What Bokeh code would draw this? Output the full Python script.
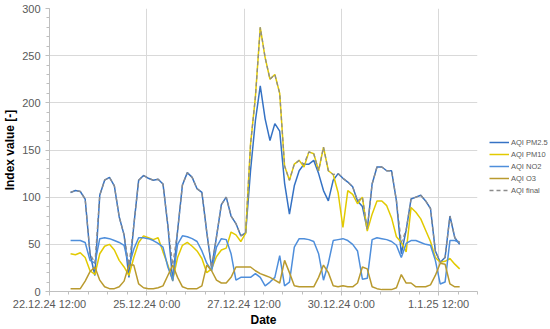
import numpy as np
import pandas as pd
from bokeh.plotting import figure
from bokeh.models import (Range1d, FixedTicker, SingleIntervalTicker, Legend,
                          LegendItem, ColumnDataSource)
from bokeh.embed import file_html
from bokeh.resources import INLINE

# ---------------- data (3-hourly samples) ----------------
start_time = "2024-12-23 01:00"
step = "3h"

aqi_pm25 = [105, 107, 106, 98, 40, 17, 102, 118, 121, 112,
            79, 60, 15, 70, 118, 123, 120, 118, 119, 114,
            70, 11, 64, 113, 126, 121, 109, 105, 63, 25,
            58, 92, 100, 80, 72, 59, 62, 128, 181, 218,
            183, 160, 178, 170, 115, 82, 112, 128, 135, 135,
            139, 125, 107, 96, 118, 125, 120, 116, 111, 96,
            90, 66, 114, 132, 132, 128, 128, 96, 40, 65,
            98, 100, 102, 96, 88, 43, 31, 36, 80, 57, 50]

aqi_pm10 = [40, 39, 41, 36, 22, 18, 40, 48, 50, 44,
            33, 26, 17, 36, 52, 59, 57, 55, 57, 42,
            28, 12, 36, 49, 52, 48, 43, 35, 20, 24,
            37, 44, 46, 63, 60, 53, 62, 156, 206, 280,
            248, 225, 230, 210, 133, 118, 135, 139, 132, 148,
            146, 128, 153, 128, 124, 105, 68, 107, 103, 93,
            100, 64, 82, 96, 96, 91, 78, 58, 52, 42,
            89, 84, 77, 65, 53, 36, 31, 32, 35, 29, 24]

aqi_no2 = [54, 54, 54, 52, 33, 30, 56, 57, 56, 54,
           52, 49, 27, 45, 57, 57, 56, 54, 51, 47,
           26, 12, 50, 59, 58, 56, 53, 43, 30, 22,
           47, 56, 55, 40, 12, 15, 15, 15, 19, 15,
           6, 10, 15, 38, 6, 10, 47, 56, 56, 55,
           53, 40, 12, 30, 54, 55, 56, 54, 50, 43,
           13, 14, 55, 57, 56, 55, 53, 49, 36, 51,
           54, 54, 52, 50, 49, 33, 8, 10, 54, 54, 52]

aqi_o3 = [3, 3, 3, 11, 21, 26, 12, 5, 3, 3,
          5, 11, 28, 28, 8, 4, 3, 3, 4, 6,
          17, 28, 15, 5, 3, 3, 3, 6, 28, 22,
          12, 9, 9, 15, 26, 26, 26, 26, 22, 19,
          17, 15, 12, 9, 33, 20, 6, 5, 5, 5,
          5, 15, 28, 20, 6, 5, 6, 5, 5, 9,
          26, 24, 5, 3, 2, 2, 2, 4, 18, 9,
          9, 5, 5, 5, 7, 17, 30, 29, 8, 5, 5]

aqi_final = [105, 107, 106, 98, 40, 30, 102, 118, 121, 112,
             79, 60, 28, 70, 118, 123, 120, 118, 119, 114,
             70, 28, 64, 113, 126, 121, 109, 105, 63, 25,
             58, 92, 100, 80, 72, 59, 62, 156, 206, 280,
             248, 225, 230, 210, 133, 118, 135, 139, 135, 148,
             146, 128, 153, 128, 124, 125, 120, 116, 111, 96,
             100, 66, 114, 132, 132, 128, 128, 96, 52, 65,
             98, 100, 102, 96, 88, 43, 31, 36, 80, 57, 52]

series_names = ["AQI PM2.5", "AQI PM10", "AQI NO2", "AQI O3", "AQI final"]

tick_dates = ["2024-12-22 12:00", "2024-12-25 00:00", "2024-12-27 12:00",
              "2024-12-30 00:00", "2025-01-01 12:00"]
tick_labels = ["22.12.24 12:00", "25.12.24 0:00", "27.12.24 12:00",
               "30.12.24 0:00", "1.1.25 12:00"]
x_start, x_end = "2024-12-22 12:00", "2025-01-02 12:00"
y_ticks_interval = 50

# ---------------- helpers ----------------
origin = pd.Timestamp("2024-12-22 00:00")


def to_days(t):
    return (pd.to_datetime(t) - origin) / pd.Timedelta(days=1)


times = pd.date_range(start_time, periods=len(aqi_pm25), freq=step)
xd = [float(v) for v in to_days(times)]

src = ColumnDataSource(dict(x=xd, pm25=aqi_pm25, pm10=aqi_pm10, no2=aqi_no2,
                            o3=aqi_o3, fin=aqi_final))

FONT = "Liberation Sans"
GRID = "#D9D9D9"
TXT = "#595959"

x0, x1 = float(to_days(x_start)), float(to_days(x_end))

p = figure(frame_width=428, frame_height=283, output_backend="svg",
           toolbar_location=None,
           x_range=Range1d(x0, x1), y_range=Range1d(0, 300),
           min_border_left=44, min_border_right=0, min_border_top=8,
           min_border_bottom=38)
p.outline_line_color = None
p.background_fill_color = "white"
p.border_fill_color = "white"

major = [float(to_days(t)) for t in tick_dates]
minor = [float(v) for v in np.arange(x0, x1 + 1e-9, 0.5)]
p.xaxis.ticker = FixedTicker(ticks=major, minor_ticks=minor)
p.xaxis.major_label_overrides = {m: l for m, l in zip(major, tick_labels)}
p.yaxis.ticker = SingleIntervalTicker(interval=y_ticks_interval, num_minor_ticks=5)

for ax in (p.xaxis[0], p.yaxis[0]):
    ax.axis_line_color = "#BFBFBF"
    ax.major_tick_line_color = "#BFBFBF"
    ax.minor_tick_line_color = "#BFBFBF"
    ax.major_tick_in = 0
    ax.minor_tick_in = 0
    ax.major_tick_out = 4
    ax.minor_tick_out = 3
    ax.major_label_text_font = FONT
    ax.major_label_text_font_size = "11px"
    ax.major_label_text_color = TXT
    ax.axis_label_text_font = FONT
    ax.axis_label_text_font_size = "12px"
    ax.axis_label_text_font_style = "bold"
    ax.axis_label_text_color = "black"

p.yaxis.axis_label_standoff = 2
p.xaxis.axis_label_standoff = 0
p.yaxis.major_label_standoff = 5
p.xaxis.major_label_standoff = 2

p.xaxis.axis_label = "Date"
p.yaxis.axis_label = "Index value [-]"

p.xgrid.grid_line_color = GRID
p.ygrid.grid_line_color = GRID
p.xgrid.grid_line_width = 1
p.ygrid.grid_line_width = 1

colors = ["#3572C4", "#E2CA00", "#4E8EDB", "#B99A2E", "#8C8C8C"]
cols = ["pm25", "pm10", "no2", "o3", "fin"]
renderers = []
for c, col in zip(cols, colors):
    if c == "fin":
        r = p.line("x", c, source=src, line_color=col, line_width=1.3,
                   line_dash="4 3")
    else:
        r = p.line("x", c, source=src, line_color=col, line_width=1.5)
    renderers.append(r)

legend = Legend(items=[LegendItem(label=n, renderers=[r])
                       for n, r in zip(series_names, renderers)])
legend.location = "top_left"
legend.title = " "
legend.title_text_font_size = "7px"
legend.title_standoff = 109
legend.label_text_font = FONT
legend.label_text_font_size = "7.5px"
legend.label_text_color = TXT
legend.glyph_width = 20
legend.glyph_height = 12
legend.label_height = 12
legend.label_standoff = 2
legend.spacing = 0
legend.padding = 0
legend.margin = 12
legend.border_line_color = None
legend.background_fill_alpha = 0
p.add_layout(legend, "right")

open("out.html", "w").write(file_html(p, INLINE))
